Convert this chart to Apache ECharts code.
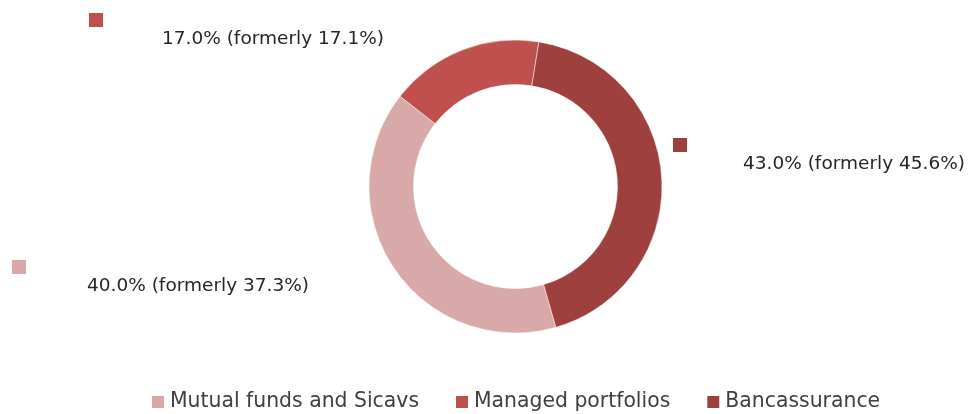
<!DOCTYPE html>
<html>
<head>
<meta charset="utf-8">
<script src="https://cdn.jsdelivr.net/npm/echarts@6/dist/echarts.min.js"></script>
<style>
  html, body { margin: 0; padding: 0; background: #fff; }
  #chart { width: 973px; height: 414px; }
</style>
</head>
<body>
<div id="chart"></div>
<script>
// 数据
const categories = ['Mutual funds and Sicavs', 'Managed portfolios', 'Bancassurance'];
const shares = [40.0, 17.0, 43.0];
const formerShares = [37.3, 17.1, 45.6];

// 颜色 / 标签位置
const colors = ['#d9a9a9', '#c0504d', '#9e403e'];
const labelPos = [[12, 260], [89, 13], [673, 138]];
const textOffset = [75, 73, 70];

const chart = echarts.init(document.getElementById('chart'));

const rich = {
  t: { fontSize: 18.5, color: '#262626', lineHeight: 24, fontFamily: 'DejaVu Sans' }
};
colors.forEach((c, i) => {
  rich['sq' + i] = { width: 14, height: 14, lineHeight: 14, backgroundColor: c };
  rich['g' + i] = { width: textOffset[i], lineHeight: 24 };
});

const option = {
  animation: false,
  color: colors,
  legend: {
    data: categories,
    left: 145,
    top: 387,
    icon: 'rect',
    itemWidth: 14,
    itemHeight: 14,
    itemGap: 35,
    textStyle: { fontSize: 20.4, color: '#404040', fontFamily: 'DejaVu Sans' }
  },
  series: [{
    type: 'pie',
    center: [515.5, 186.5],
    radius: [102, 146.5],
    startAngle: -74,
    clockwise: true,
    itemStyle: { borderColor: '#fff', borderWidth: 0.5 },
    emphasis: { disabled: true },
    labelLine: { show: false },
    label: {
      show: true,
      overflow: 'none',
      formatter: function (p) {
        const i = p.dataIndex;
        return '{sq' + i + '| }\n{g' + i + '| }{t|' + shares[i].toFixed(1) + '% (formerly ' + formerShares[i].toFixed(1) + '%)}';
      },
      rich: rich
    },
    labelLayout: function (p) {
      const pos = labelPos[p.dataIndex];
      return { x: pos[0], y: pos[1], align: 'left', verticalAlign: 'top', hideOverlap: false };
    },
    data: categories.map((name, i) => ({ name: name, value: shares[i] }))
  }]
};

chart.setOption(option);
</script>
</body>
</html>
